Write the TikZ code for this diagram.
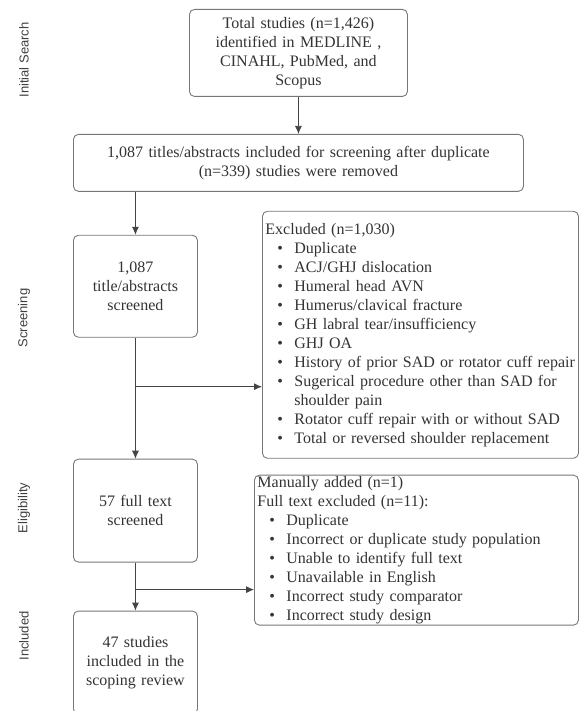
\documentclass[tikz,border=0pt]{standalone}
\usepackage{fontspec}
\setmainfont{Liberation Serif}
\setsansfont{Liberation Sans}
\usetikzlibrary{positioning, arrows.meta}

\definecolor{boxline}{HTML}{777777}
\definecolor{txt}{HTML}{333333}
\definecolor{arrline}{HTML}{444444}

\newcommand{\bul}{\makebox[29pt][l]{\hspace{12pt}\textbullet}}

\begin{document}
\begin{tikzpicture}[x=1pt, y=-1pt, >={Latex[length=8pt,width=7pt]},
  font=\fontsize{16}{19}\selectfont, text=txt,
  box/.style={draw=boxline, rounded corners=5pt, line width=0.9pt, align=center, inner sep=2pt},
  stagebox/.style={box, minimum width=124pt, minimum height=103pt, text width=118pt},
  listbox/.style={draw=boxline, rounded corners=5pt, line width=0.9pt, align=left, inner xsep=3pt, inner ysep=1pt},
  stage/.style={rotate=90, font=\sffamily\fontsize{13}{15}\selectfont, text=black!75},
  flow/.style={color=arrline, line width=0.8pt}]
   \useasboundingbox (0,0) rectangle (581,711);
   % stages
   \node[stage] (s1) at (24,60) {Initial Search};
   \node[stage] (s2) at (24,318) {Screening};
   \node[stage] (s3) at (24,508) {Eligibility};
   \node[stage] (s4) at (24,636) {Included};
   % main column
   \node[box, minimum width=218pt, minimum height=87pt, text width=210pt, anchor=north west] (tot) at (189,9)
      {Total studies (n=1,426)\\ identified in MEDLINE ,\\ CINAHL, PubMed, and\\ Scopus};
   \node[box, minimum width=450pt, minimum height=57pt, text width=440pt, below=37pt of tot] (dedup)
      {1,087 titles/abstracts included for screening after duplicate\\ (n=339) studies were removed};
   \node[stagebox, minimum height=102pt, below=43pt of dedup.south west, anchor=north west] (screen)
      {1,087\\ title/abstracts\\ screened};
   \node[stagebox, below=121pt of screen] (elig) {57 full text\\ screened};
   \node[stagebox, below=48pt of elig] (incl) {47 studies\\ included in the\\ scoping review};
   % excluded
   \node[listbox, text width=310pt, minimum height=247pt, below=19pt of dedup.south east, anchor=north east, xshift=55pt] (excl)
      {Excluded (n=1,030)\\
       \bul Duplicate\\
       \bul ACJ/GHJ dislocation\\
       \bul Humeral head AVN\\
       \bul Humerus/clavical fracture\\
       \bul GH labral tear/insufficiency\\
       \bul GHJ OA\\
       \bul History of prior SAD or rotator cuff repair\\
       \bul Sugerical procedure other than SAD for\\
       \hspace*{29pt}shoulder pain\\
       \bul Rotator cuff repair with or without SAD\\
       \bul Total or reversed shoulder replacement};
   \node[listbox, text width=318pt, minimum height=150pt, below=16pt of excl.south east, anchor=north east] (full)
      {Manually added (n=1)\\
       Full text excluded (n=11):\\
       \bul Duplicate\\
       \bul Incorrect or duplicate study population\\
       \bul Unable to identify full text\\
       \bul Unavailable in English\\
       \bul Incorrect study comparator\\
       \bul Incorrect study design};
   \coordinate[below=49pt of screen.south] (b1);
   \coordinate[below=27pt of elig.south] (b2);
    \path[flow, ->]
    (tot) edge (dedup)
    (screen |- dedup.south) edge (screen)
    (screen) edge (elig)
    (b1) edge (b1 -| excl.west)
    (elig) edge (incl)
    (b2) edge (b2 -| full.west);
\end{tikzpicture}
\end{document}
